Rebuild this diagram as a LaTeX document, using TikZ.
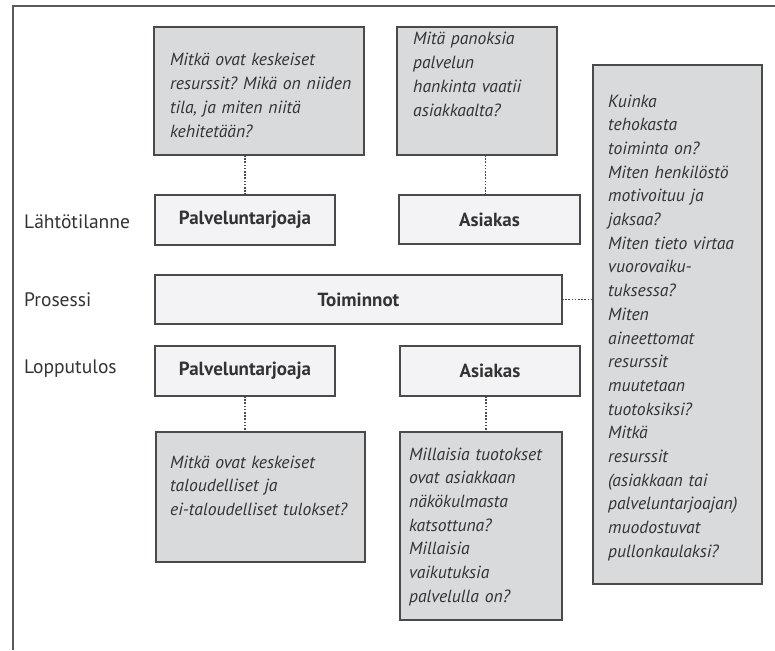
\documentclass[tikz,border=0pt]{standalone}
\usepackage{fontspec}
\setmainfont{PT Sans}
\frenchspacing
\hyphenpenalty=10000
\exhyphenpenalty=10000
\definecolor{edge}{HTML}{4A4A4A}
\definecolor{qfill}{HTML}{D9DADC}
\definecolor{wfill}{HTML}{F3F3F5}
\definecolor{txt}{HTML}{333333}
\definecolor{frame}{HTML}{5A5A5A}
\tikzset{
  x=1pt, y=-1pt,
  boxbase/.style={draw=edge, line width=1.3pt, anchor=north west, inner sep=0pt, outer sep=0pt},
  qbox/.style={boxbase, fill=qfill},
  wbox/.style={boxbase, fill=wfill, text=txt, font=\fontsize{19}{22}\selectfont\bfseries},
  qtext/.style={anchor=base west, inner sep=0pt, align=left, text=txt, text width=230pt,
    font=\fontsize{17.6}{23.7}\selectfont\itshape},
  rowlabel/.style={anchor=base west, inner sep=0pt, text=txt, font=\fontsize{19.5}{22}\selectfont},
  dotline/.style={draw=edge, line width=1.5pt, dash pattern=on 1.6pt off 1.6pt}
}
\begin{document}
\begin{tikzpicture}
\useasboundingbox (0,0) rectangle (775,650);
\fill[white] (0,0) rectangle (775,650);
% outer frame (cropped)
\draw[frame, line width=1.3pt] (775,6) -- (13,6) -- (13,650);

% gray question boxes
\node[qbox, minimum width=210pt, minimum height=128pt] (q1) at (154,27) {};
\node[qbox, minimum width=160pt, minimum height=128pt] (q2) at (397,27) {};
\node[qbox, minimum width=169pt, minimum height=519pt] (qR) at (593,65) {};
\node[qbox, minimum width=209pt, minimum height=130pt] (q3) at (156,432) {};
\node[qbox, minimum width=162pt, minimum height=188pt] (q4) at (400,432) {};

% white boxes
\node[wbox, minimum width=180pt, minimum height=50pt] (pA) at (155,195) {Palveluntarjoaja};
\node[wbox, minimum width=181pt, minimum height=49pt] (aA) at (399,195) {Asiakas};
\node[wbox, minimum width=407pt, minimum height=49pt] (tm) at (155,275) {Toiminnot};
\node[wbox, minimum width=180pt, minimum height=50pt] (pB) at (155,346) {Palveluntarjoaja};
\node[wbox, minimum width=180pt, minimum height=50pt] (aB) at (400,346) {Asiakas};

% row labels
\node[rowlabel] (l1) at (24,228) {Lähtötilanne};
\node[rowlabel] (l2) at (24,306) {Prosessi};
\node[rowlabel] (l3) at (24,373) {Lopputulos};

% question texts
\node[qtext] (t1) at (170,66) {Mitkä ovat keskeiset\\resurssit? Mikä on niiden\\tila, ja miten niitä\\kehitetään?};
\node[qtext] (t2) at (413,45) {Mitä panoksia\\palvelun\\hankinta vaatii\\asiakkaalta?};
\node[qtext] (tR) at (608,107) {Kuinka\\tehokasta\\toiminta on?\\Miten henkilöstö\\motivoituu ja\\jaksaa?\\Miten tieto virtaa\\vuorovaiku-\\tuksessa?\\Miten\\aineettomat\\resurssit\\muutetaan\\tuotoksiksi?\\Mitkä\\resurssit\\(asiakkaan tai\\palveluntarjoajan)\\muodostuvat\\pullonkaulaksi?};
\node[qtext] (t3) at (170,468) {Mitkä ovat keskeiset\\taloudelliset ja\\ei-taloudelliset tulokset?};
\node[qtext] (t4) at (409,460) {Millaisia tuotokset\\ovat asiakkaan\\näkökulmasta\\katsottuna?\\Millaisia\\vaikutuksia\\palvelulla on?};

% dotted connectors
\draw[dotline] (pA.north) -- (pA.north |- q1.south);
\draw[dotline] ([xshift=-4pt]aA.north) -- ([xshift=-4pt]aA.north |- q2.south);
\draw[dotline] (tm.east) -- (tm.east -| qR.west);
\draw[dotline] (pB.south) -- (pB.south |- q3.north);
\draw[dotline] ([xshift=-4pt]aB.south) -- ([xshift=-4pt]aB.south |- q4.north);
\end{tikzpicture}
\end{document}
